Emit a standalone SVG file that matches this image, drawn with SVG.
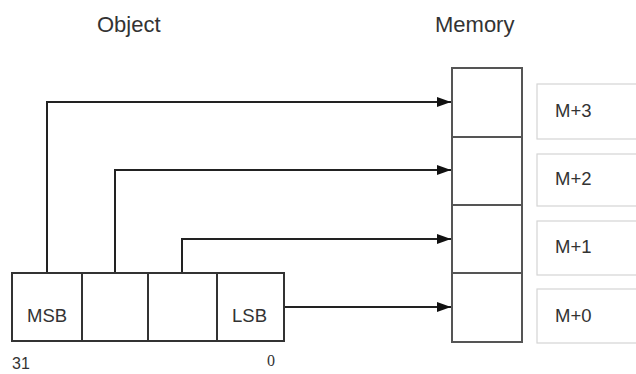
<svg xmlns="http://www.w3.org/2000/svg" width="636" height="374" viewBox="0 0 636 374">
<style>
  text { font-family: "Liberation Sans", Arial, sans-serif; fill: #333; }
  .title { font-size: 22px; }
  .lbl { font-size: 18.5px; }
  .cell { fill: #fff; stroke: #333; stroke-width: 2; }
  .mem { fill: #fff; stroke: #555; stroke-width: 2; }
  .tag { fill: #fff; stroke: #d4d4d4; stroke-width: 1.2; }
  .conn { fill: none; stroke: #222; stroke-width: 2; }
</style>
<defs>
  <marker id="ah" viewBox="0 0 14 10" refX="14" refY="5" markerWidth="14" markerHeight="10" markerUnits="userSpaceOnUse" orient="auto">
    <path d="M0,0 L14,5 L0,10 Z" fill="#111"/>
  </marker>
</defs>

<text class="title" x="97" y="32">Object</text>
<text class="title" x="435" y="32">Memory</text>

<g id="connectors">
  <polyline class="conn" points="47,273 47,102 451,102" marker-end="url(#ah)"/>
  <polyline class="conn" points="115,273 115,170 451,170" marker-end="url(#ah)"/>
  <polyline class="conn" points="182,273 182,239 451,239" marker-end="url(#ah)"/>
  <polyline class="conn" points="284,307 451,307" marker-end="url(#ah)"/>
</g>

<g id="obj-msb"><rect class="cell" x="12" y="273" width="70" height="68"/><text class="lbl" x="27" y="322">MSB</text></g>
<g id="obj-b2"><rect class="cell" x="82" y="273" width="66" height="68"/></g>
<g id="obj-b1"><rect class="cell" x="148" y="273" width="69" height="68"/></g>
<g id="obj-lsb"><rect class="cell" x="217" y="273" width="67" height="68"/><text class="lbl" x="232" y="322">LSB</text></g>

<text x="12" y="369" style="font-size:16px">31</text>
<text x="267" y="366" style="font-family:'Liberation Serif', serif; font-size:16px">0</text>

<g id="mem3"><rect class="mem" x="452" y="68" width="70" height="69"/></g>
<g id="mem2"><rect class="mem" x="452" y="137" width="70" height="68"/></g>
<g id="mem1"><rect class="mem" x="452" y="205" width="70" height="68"/></g>
<g id="mem0"><rect class="mem" x="452" y="273" width="70" height="69"/></g>

<g id="tag3"><rect class="tag" x="537" y="84" width="110" height="55"/><text class="lbl" x="555" y="117">M+3</text></g>
<g id="tag2"><rect class="tag" x="537" y="154" width="110" height="52"/><text class="lbl" x="555" y="185">M+2</text></g>
<g id="tag1"><rect class="tag" x="537" y="221" width="110" height="54"/><text class="lbl" x="555" y="253">M+1</text></g>
<g id="tag0"><rect class="tag" x="537" y="289" width="110" height="54"/><text class="lbl" x="555" y="322">M+0</text></g>
</svg>
